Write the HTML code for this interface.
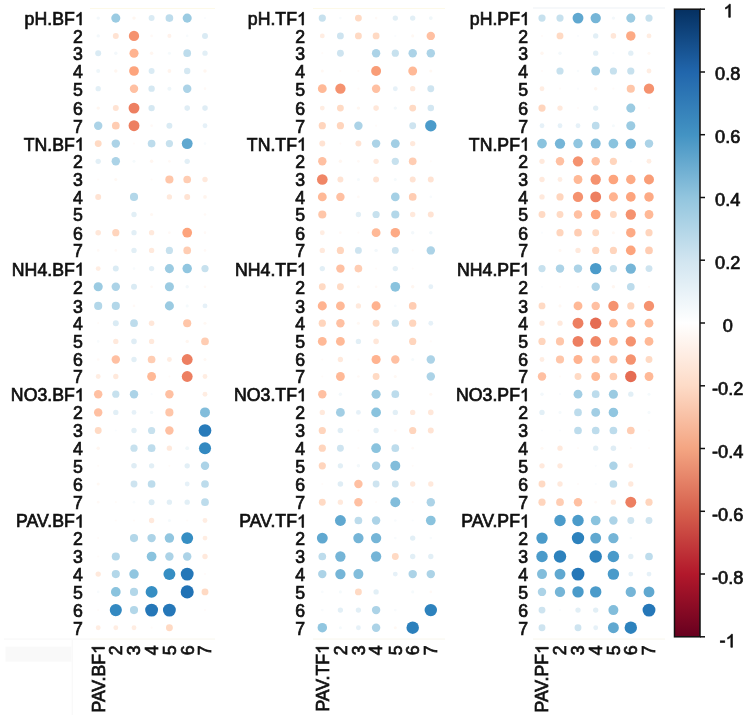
<!DOCTYPE html>
<html><head><meta charset="utf-8"><style>
html,body{margin:0;padding:0;background:#fff;}
svg{display:block;filter:blur(0.35px);}
</style></head><body>
<svg width="755" height="715" viewBox="0 0 755 715">
<rect width="755" height="715" fill="#fff"/>
<rect x="5.5" y="646.7" width="66" height="15" fill="#f9f9f9"/>
<line x1="4" x2="90" y1="639" y2="639" stroke="#f6f6f6" stroke-width="1"/>
<line x1="72.2" x2="72.2" y1="640" y2="715" stroke="#f7f7f7" stroke-width="1"/>
<line x1="90" x2="215" y1="8.5" y2="8.5" stroke="#fdf9e8" stroke-width="1.2"/>
<line x1="313" x2="445" y1="8.5" y2="8.5" stroke="#fdf9e8" stroke-width="1.2"/>
<line x1="533" x2="665" y1="8" y2="8" stroke="#eef2f6" stroke-width="1.2"/>
<line x1="90" x2="215" y1="639" y2="639" stroke="#f8f6ec" stroke-width="1"/>
<line x1="313" x2="445" y1="639" y2="639" stroke="#f8f6ec" stroke-width="1"/>
<line x1="533" x2="665" y1="639" y2="639" stroke="#f8f6ec" stroke-width="1"/>
<g font-family="Liberation Sans, sans-serif" font-size="17.7" fill="#111" stroke="#111" stroke-width="0.7">
<text x="74.76" y="25.0" text-anchor="end">pH.BF</text>
<path transform="translate(74.76,25.00) scale(0.00864,-0.00864)" d="M763 0H583V1147Q518 1085 412 1023T223 930V1104Q374 1175 487 1276T647 1472H763Z" fill="#111" stroke="#111" stroke-width="81.0"/>
<text x="82.8" y="42.8" text-anchor="end">2</text>
<text x="82.8" y="60.1" text-anchor="end">3</text>
<text x="82.8" y="77.9" text-anchor="end">4</text>
<text x="82.8" y="95.6" text-anchor="end">5</text>
<text x="82.8" y="115.0" text-anchor="end">6</text>
<text x="82.8" y="132.6" text-anchor="end">7</text>
<text x="74.76" y="150.5" text-anchor="end">TN.BF</text>
<path transform="translate(74.76,150.50) scale(0.00864,-0.00864)" d="M763 0H583V1147Q518 1085 412 1023T223 930V1104Q374 1175 487 1276T647 1472H763Z" fill="#111" stroke="#111" stroke-width="81.0"/>
<text x="82.8" y="168.2" text-anchor="end">2</text>
<text x="82.8" y="186.4" text-anchor="end">3</text>
<text x="82.8" y="203.8" text-anchor="end">4</text>
<text x="82.8" y="221.4" text-anchor="end">5</text>
<text x="82.8" y="239.6" text-anchor="end">6</text>
<text x="82.8" y="257.3" text-anchor="end">7</text>
<text x="74.76" y="275.5" text-anchor="end">NH4.BF</text>
<path transform="translate(74.76,275.50) scale(0.00864,-0.00864)" d="M763 0H583V1147Q518 1085 412 1023T223 930V1104Q374 1175 487 1276T647 1472H763Z" fill="#111" stroke="#111" stroke-width="81.0"/>
<text x="82.8" y="293.7" text-anchor="end">2</text>
<text x="82.8" y="312.8" text-anchor="end">3</text>
<text x="82.8" y="330.1" text-anchor="end">4</text>
<text x="82.8" y="348.3" text-anchor="end">5</text>
<text x="82.8" y="366.4" text-anchor="end">6</text>
<text x="82.8" y="383.4" text-anchor="end">7</text>
<text x="74.76" y="401.1" text-anchor="end">NO3.BF</text>
<path transform="translate(74.76,401.10) scale(0.00864,-0.00864)" d="M763 0H583V1147Q518 1085 412 1023T223 930V1104Q374 1175 487 1276T647 1472H763Z" fill="#111" stroke="#111" stroke-width="81.0"/>
<text x="82.8" y="419.3" text-anchor="end">2</text>
<text x="82.8" y="437.4" text-anchor="end">3</text>
<text x="82.8" y="455.1" text-anchor="end">4</text>
<text x="82.8" y="472.7" text-anchor="end">5</text>
<text x="82.8" y="490.9" text-anchor="end">6</text>
<text x="82.8" y="509.1" text-anchor="end">7</text>
<text x="74.76" y="527.4" text-anchor="end">PAV.BF</text>
<path transform="translate(74.76,527.40) scale(0.00864,-0.00864)" d="M763 0H583V1147Q518 1085 412 1023T223 930V1104Q374 1175 487 1276T647 1472H763Z" fill="#111" stroke="#111" stroke-width="81.0"/>
<text x="82.8" y="545.0" text-anchor="end">2</text>
<text x="82.8" y="563.4" text-anchor="end">3</text>
<text x="82.8" y="581.0" text-anchor="end">4</text>
<text x="82.8" y="598.8" text-anchor="end">5</text>
<text x="82.8" y="617.0" text-anchor="end">6</text>
<text x="82.8" y="634.6" text-anchor="end">7</text>
<text transform="translate(104.5,653.94) rotate(-90)" text-anchor="end">PAV.BF</text>
<path transform="translate(104.50,653.94) rotate(-90) scale(0.00864,-0.00864)" d="M763 0H583V1147Q518 1085 412 1023T223 930V1104Q374 1175 487 1276T647 1472H763Z" fill="#111" stroke="#111" stroke-width="81.0"/>
<text transform="translate(122.1,645.4) rotate(-90)" text-anchor="end">2</text>
<text transform="translate(140.3,645.4) rotate(-90)" text-anchor="end">3</text>
<text transform="translate(157.9,645.4) rotate(-90)" text-anchor="end">4</text>
<text transform="translate(175.7,645.4) rotate(-90)" text-anchor="end">5</text>
<text transform="translate(193.5,645.4) rotate(-90)" text-anchor="end">6</text>
<text transform="translate(211.3,645.4) rotate(-90)" text-anchor="end">7</text>
<text x="296.96" y="25.0" text-anchor="end">pH.TF</text>
<path transform="translate(296.96,25.00) scale(0.00864,-0.00864)" d="M763 0H583V1147Q518 1085 412 1023T223 930V1104Q374 1175 487 1276T647 1472H763Z" fill="#111" stroke="#111" stroke-width="81.0"/>
<text x="305.0" y="42.8" text-anchor="end">2</text>
<text x="305.0" y="60.1" text-anchor="end">3</text>
<text x="305.0" y="77.9" text-anchor="end">4</text>
<text x="305.0" y="95.6" text-anchor="end">5</text>
<text x="305.0" y="115.0" text-anchor="end">6</text>
<text x="305.0" y="132.6" text-anchor="end">7</text>
<text x="296.96" y="150.5" text-anchor="end">TN.TF</text>
<path transform="translate(296.96,150.50) scale(0.00864,-0.00864)" d="M763 0H583V1147Q518 1085 412 1023T223 930V1104Q374 1175 487 1276T647 1472H763Z" fill="#111" stroke="#111" stroke-width="81.0"/>
<text x="305.0" y="168.2" text-anchor="end">2</text>
<text x="305.0" y="186.4" text-anchor="end">3</text>
<text x="305.0" y="203.8" text-anchor="end">4</text>
<text x="305.0" y="221.4" text-anchor="end">5</text>
<text x="305.0" y="239.6" text-anchor="end">6</text>
<text x="305.0" y="257.3" text-anchor="end">7</text>
<text x="296.96" y="275.5" text-anchor="end">NH4.TF</text>
<path transform="translate(296.96,275.50) scale(0.00864,-0.00864)" d="M763 0H583V1147Q518 1085 412 1023T223 930V1104Q374 1175 487 1276T647 1472H763Z" fill="#111" stroke="#111" stroke-width="81.0"/>
<text x="305.0" y="293.7" text-anchor="end">2</text>
<text x="305.0" y="312.8" text-anchor="end">3</text>
<text x="305.0" y="330.1" text-anchor="end">4</text>
<text x="305.0" y="348.3" text-anchor="end">5</text>
<text x="305.0" y="366.4" text-anchor="end">6</text>
<text x="305.0" y="383.4" text-anchor="end">7</text>
<text x="296.96" y="401.1" text-anchor="end">NO3.TF</text>
<path transform="translate(296.96,401.10) scale(0.00864,-0.00864)" d="M763 0H583V1147Q518 1085 412 1023T223 930V1104Q374 1175 487 1276T647 1472H763Z" fill="#111" stroke="#111" stroke-width="81.0"/>
<text x="305.0" y="419.3" text-anchor="end">2</text>
<text x="305.0" y="437.4" text-anchor="end">3</text>
<text x="305.0" y="455.1" text-anchor="end">4</text>
<text x="305.0" y="472.7" text-anchor="end">5</text>
<text x="305.0" y="490.9" text-anchor="end">6</text>
<text x="305.0" y="509.1" text-anchor="end">7</text>
<text x="296.96" y="527.4" text-anchor="end">PAV.TF</text>
<path transform="translate(296.96,527.40) scale(0.00864,-0.00864)" d="M763 0H583V1147Q518 1085 412 1023T223 930V1104Q374 1175 487 1276T647 1472H763Z" fill="#111" stroke="#111" stroke-width="81.0"/>
<text x="305.0" y="545.0" text-anchor="end">2</text>
<text x="305.0" y="563.4" text-anchor="end">3</text>
<text x="305.0" y="581.0" text-anchor="end">4</text>
<text x="305.0" y="598.8" text-anchor="end">5</text>
<text x="305.0" y="617.0" text-anchor="end">6</text>
<text x="305.0" y="634.6" text-anchor="end">7</text>
<text transform="translate(328.6,653.94) rotate(-90)" text-anchor="end">PAV.TF</text>
<path transform="translate(328.60,653.94) rotate(-90) scale(0.00864,-0.00864)" d="M763 0H583V1147Q518 1085 412 1023T223 930V1104Q374 1175 487 1276T647 1472H763Z" fill="#111" stroke="#111" stroke-width="81.0"/>
<text transform="translate(346.7,645.4) rotate(-90)" text-anchor="end">2</text>
<text transform="translate(364.7,645.4) rotate(-90)" text-anchor="end">3</text>
<text transform="translate(382.4,645.4) rotate(-90)" text-anchor="end">4</text>
<text transform="translate(401.6,645.4) rotate(-90)" text-anchor="end">5</text>
<text transform="translate(419.0,645.4) rotate(-90)" text-anchor="end">6</text>
<text transform="translate(437.1,645.4) rotate(-90)" text-anchor="end">7</text>
<text x="519.96" y="25.0" text-anchor="end">pH.PF</text>
<path transform="translate(519.96,25.00) scale(0.00864,-0.00864)" d="M763 0H583V1147Q518 1085 412 1023T223 930V1104Q374 1175 487 1276T647 1472H763Z" fill="#111" stroke="#111" stroke-width="81.0"/>
<text x="528.0" y="42.8" text-anchor="end">2</text>
<text x="528.0" y="60.1" text-anchor="end">3</text>
<text x="528.0" y="77.9" text-anchor="end">4</text>
<text x="528.0" y="95.6" text-anchor="end">5</text>
<text x="528.0" y="115.0" text-anchor="end">6</text>
<text x="528.0" y="132.6" text-anchor="end">7</text>
<text x="519.96" y="150.5" text-anchor="end">TN.PF</text>
<path transform="translate(519.96,150.50) scale(0.00864,-0.00864)" d="M763 0H583V1147Q518 1085 412 1023T223 930V1104Q374 1175 487 1276T647 1472H763Z" fill="#111" stroke="#111" stroke-width="81.0"/>
<text x="528.0" y="168.2" text-anchor="end">2</text>
<text x="528.0" y="186.4" text-anchor="end">3</text>
<text x="528.0" y="203.8" text-anchor="end">4</text>
<text x="528.0" y="221.4" text-anchor="end">5</text>
<text x="528.0" y="239.6" text-anchor="end">6</text>
<text x="528.0" y="257.3" text-anchor="end">7</text>
<text x="519.96" y="275.5" text-anchor="end">NH4.PF</text>
<path transform="translate(519.96,275.50) scale(0.00864,-0.00864)" d="M763 0H583V1147Q518 1085 412 1023T223 930V1104Q374 1175 487 1276T647 1472H763Z" fill="#111" stroke="#111" stroke-width="81.0"/>
<text x="528.0" y="293.7" text-anchor="end">2</text>
<text x="528.0" y="312.8" text-anchor="end">3</text>
<text x="528.0" y="330.1" text-anchor="end">4</text>
<text x="528.0" y="348.3" text-anchor="end">5</text>
<text x="528.0" y="366.4" text-anchor="end">6</text>
<text x="528.0" y="383.4" text-anchor="end">7</text>
<text x="519.96" y="401.1" text-anchor="end">NO3.PF</text>
<path transform="translate(519.96,401.10) scale(0.00864,-0.00864)" d="M763 0H583V1147Q518 1085 412 1023T223 930V1104Q374 1175 487 1276T647 1472H763Z" fill="#111" stroke="#111" stroke-width="81.0"/>
<text x="528.0" y="419.3" text-anchor="end">2</text>
<text x="528.0" y="437.4" text-anchor="end">3</text>
<text x="528.0" y="455.1" text-anchor="end">4</text>
<text x="528.0" y="472.7" text-anchor="end">5</text>
<text x="528.0" y="490.9" text-anchor="end">6</text>
<text x="528.0" y="509.1" text-anchor="end">7</text>
<text x="519.96" y="527.4" text-anchor="end">PAV.PF</text>
<path transform="translate(519.96,527.40) scale(0.00864,-0.00864)" d="M763 0H583V1147Q518 1085 412 1023T223 930V1104Q374 1175 487 1276T647 1472H763Z" fill="#111" stroke="#111" stroke-width="81.0"/>
<text x="528.0" y="545.0" text-anchor="end">2</text>
<text x="528.0" y="563.4" text-anchor="end">3</text>
<text x="528.0" y="581.0" text-anchor="end">4</text>
<text x="528.0" y="598.8" text-anchor="end">5</text>
<text x="528.0" y="617.0" text-anchor="end">6</text>
<text x="528.0" y="634.6" text-anchor="end">7</text>
<text transform="translate(548.3,653.94) rotate(-90)" text-anchor="end">PAV.PF</text>
<path transform="translate(548.30,653.94) rotate(-90) scale(0.00864,-0.00864)" d="M763 0H583V1147Q518 1085 412 1023T223 930V1104Q374 1175 487 1276T647 1472H763Z" fill="#111" stroke="#111" stroke-width="81.0"/>
<text transform="translate(566.3,645.4) rotate(-90)" text-anchor="end">2</text>
<text transform="translate(584.3,645.4) rotate(-90)" text-anchor="end">3</text>
<text transform="translate(602.0,645.4) rotate(-90)" text-anchor="end">4</text>
<text transform="translate(619.7,645.4) rotate(-90)" text-anchor="end">5</text>
<text transform="translate(637.1,645.4) rotate(-90)" text-anchor="end">6</text>
<text transform="translate(655.3,645.4) rotate(-90)" text-anchor="end">7</text>
</g>
<g>
<circle cx="98.2" cy="18.1" r="1.72" fill="#f3f8fb"/>
<circle cx="115.8" cy="18.1" r="4.55" fill="#9bcbe2"/>
<circle cx="134.0" cy="18.1" r="1.72" fill="#fff6f0"/>
<circle cx="151.6" cy="18.1" r="2.98" fill="#daebf4"/>
<circle cx="169.4" cy="18.1" r="3.85" fill="#bddcec"/>
<circle cx="187.2" cy="18.1" r="4.55" fill="#9bcbe2"/>
<circle cx="205.0" cy="18.1" r="1.09" fill="#fafcfe"/>
<circle cx="98.2" cy="35.9" r="1.72" fill="#f3f8fb"/>
<circle cx="115.8" cy="35.9" r="2.98" fill="#ffe3d3"/>
<circle cx="134.0" cy="35.9" r="5.16" fill="#f5926f"/>
<circle cx="151.6" cy="35.9" r="1.33" fill="#fff9f6"/>
<circle cx="169.4" cy="35.9" r="2.04" fill="#fff2eb"/>
<circle cx="187.2" cy="35.9" r="1.33" fill="#f8fbfd"/>
<circle cx="205.0" cy="35.9" r="2.98" fill="#daebf4"/>
<circle cx="98.2" cy="53.2" r="2.98" fill="#daebf4"/>
<circle cx="115.8" cy="53.2" r="1.72" fill="#f3f8fb"/>
<circle cx="134.0" cy="53.2" r="4.55" fill="#ffb390"/>
<circle cx="151.6" cy="53.2" r="1.72" fill="#fff6f0"/>
<circle cx="169.4" cy="53.2" r="1.54" fill="#f5fafc"/>
<circle cx="187.2" cy="53.2" r="3.85" fill="#bddcec"/>
<circle cx="205.0" cy="53.2" r="2.67" fill="#e2eff6"/>
<circle cx="98.2" cy="71.0" r="2.04" fill="#eef6fa"/>
<circle cx="115.8" cy="71.0" r="1.72" fill="#fff6f0"/>
<circle cx="134.0" cy="71.0" r="4.87" fill="#fda47d"/>
<circle cx="151.6" cy="71.0" r="2.98" fill="#daebf4"/>
<circle cx="169.4" cy="71.0" r="1.89" fill="#fff4ed"/>
<circle cx="187.2" cy="71.0" r="3.17" fill="#d5e8f2"/>
<circle cx="205.0" cy="71.0" r="1.72" fill="#fff6f0"/>
<circle cx="98.2" cy="88.7" r="2.67" fill="#e2eff6"/>
<circle cx="134.0" cy="88.7" r="4.22" fill="#ffc0a2"/>
<circle cx="151.6" cy="88.7" r="3.17" fill="#d5e8f2"/>
<circle cx="169.4" cy="88.7" r="2.04" fill="#eef6fa"/>
<circle cx="187.2" cy="88.7" r="4.22" fill="#acd3e7"/>
<circle cx="205.0" cy="88.7" r="1.33" fill="#fff9f6"/>
<circle cx="98.2" cy="108.1" r="1.72" fill="#fff6f0"/>
<circle cx="115.8" cy="108.1" r="2.98" fill="#ffe3d3"/>
<circle cx="134.0" cy="108.1" r="5.44" fill="#ed7f61"/>
<circle cx="151.6" cy="108.1" r="3.17" fill="#d5e8f2"/>
<circle cx="187.2" cy="108.1" r="2.78" fill="#dfedf5"/>
<circle cx="205.0" cy="108.1" r="2.78" fill="#dfedf5"/>
<circle cx="98.2" cy="125.7" r="4.22" fill="#acd3e7"/>
<circle cx="115.8" cy="125.7" r="3.85" fill="#ffcdb3"/>
<circle cx="134.0" cy="125.7" r="5.44" fill="#ed7f61"/>
<circle cx="151.6" cy="125.7" r="1.33" fill="#fff9f6"/>
<circle cx="169.4" cy="125.7" r="2.98" fill="#daebf4"/>
<circle cx="205.0" cy="125.7" r="2.43" fill="#e6f1f8"/>
<circle cx="98.2" cy="143.6" r="3.44" fill="#ffdac4"/>
<circle cx="115.8" cy="143.6" r="4.22" fill="#acd3e7"/>
<circle cx="134.0" cy="143.6" r="1.09" fill="#fffbf9"/>
<circle cx="151.6" cy="143.6" r="3.85" fill="#bddcec"/>
<circle cx="169.4" cy="143.6" r="3.61" fill="#c7e1ee"/>
<circle cx="187.2" cy="143.6" r="5.44" fill="#60a8d0"/>
<circle cx="205.0" cy="143.6" r="1.33" fill="#f8fbfd"/>
<circle cx="98.2" cy="161.3" r="2.67" fill="#e2eff6"/>
<circle cx="115.8" cy="161.3" r="4.22" fill="#acd3e7"/>
<circle cx="134.0" cy="161.3" r="1.54" fill="#f5fafc"/>
<circle cx="151.6" cy="161.3" r="1.72" fill="#fff6f0"/>
<circle cx="169.4" cy="161.3" r="1.33" fill="#fff9f6"/>
<circle cx="187.2" cy="161.3" r="2.67" fill="#e2eff6"/>
<circle cx="98.2" cy="179.5" r="1.09" fill="#fffbf9"/>
<circle cx="115.8" cy="179.5" r="1.54" fill="#fff8f3"/>
<circle cx="151.6" cy="179.5" r="1.09" fill="#fffbf9"/>
<circle cx="169.4" cy="179.5" r="4.07" fill="#ffc6a9"/>
<circle cx="187.2" cy="179.5" r="3.85" fill="#ffcdb3"/>
<circle cx="205.0" cy="179.5" r="2.67" fill="#ffe9dc"/>
<circle cx="98.2" cy="196.9" r="2.98" fill="#ffe3d3"/>
<circle cx="134.0" cy="196.9" r="4.07" fill="#b3d7e9"/>
<circle cx="169.4" cy="196.9" r="2.67" fill="#ffe9dc"/>
<circle cx="187.2" cy="196.9" r="2.98" fill="#ffe3d3"/>
<circle cx="205.0" cy="196.9" r="1.89" fill="#fff4ed"/>
<circle cx="134.0" cy="214.5" r="2.67" fill="#e2eff6"/>
<circle cx="151.6" cy="214.5" r="1.54" fill="#fff8f3"/>
<circle cx="205.0" cy="214.5" r="1.33" fill="#fff9f6"/>
<circle cx="98.2" cy="232.7" r="2.78" fill="#ffe7d9"/>
<circle cx="115.8" cy="232.7" r="3.61" fill="#ffd5bd"/>
<circle cx="134.0" cy="232.7" r="2.67" fill="#e2eff6"/>
<circle cx="151.6" cy="232.7" r="2.67" fill="#ffe9dc"/>
<circle cx="169.4" cy="232.7" r="1.33" fill="#fff9f6"/>
<circle cx="187.2" cy="232.7" r="4.87" fill="#fda47d"/>
<circle cx="205.0" cy="232.7" r="1.33" fill="#fff9f6"/>
<circle cx="98.2" cy="250.4" r="1.33" fill="#fff9f6"/>
<circle cx="115.8" cy="250.4" r="1.33" fill="#fff9f6"/>
<circle cx="134.0" cy="250.4" r="2.67" fill="#e2eff6"/>
<circle cx="151.6" cy="250.4" r="2.67" fill="#ffe9dc"/>
<circle cx="169.4" cy="250.4" r="3.61" fill="#c7e1ee"/>
<circle cx="187.2" cy="250.4" r="3.85" fill="#ffcdb3"/>
<circle cx="205.0" cy="250.4" r="1.33" fill="#fff9f6"/>
<circle cx="98.2" cy="268.6" r="2.43" fill="#ffede2"/>
<circle cx="115.8" cy="268.6" r="2.98" fill="#daebf4"/>
<circle cx="134.0" cy="268.6" r="1.33" fill="#f8fbfd"/>
<circle cx="151.6" cy="268.6" r="2.67" fill="#e2eff6"/>
<circle cx="169.4" cy="268.6" r="4.55" fill="#9bcbe2"/>
<circle cx="187.2" cy="268.6" r="4.74" fill="#91c6e0"/>
<circle cx="205.0" cy="268.6" r="3.61" fill="#c7e1ee"/>
<circle cx="98.2" cy="286.8" r="4.55" fill="#9bcbe2"/>
<circle cx="115.8" cy="286.8" r="4.22" fill="#acd3e7"/>
<circle cx="134.0" cy="286.8" r="2.98" fill="#daebf4"/>
<circle cx="151.6" cy="286.8" r="1.33" fill="#fff9f6"/>
<circle cx="169.4" cy="286.8" r="4.55" fill="#9bcbe2"/>
<circle cx="187.2" cy="286.8" r="1.72" fill="#f3f8fb"/>
<circle cx="205.0" cy="286.8" r="1.33" fill="#fff9f6"/>
<circle cx="98.2" cy="305.9" r="4.07" fill="#b3d7e9"/>
<circle cx="115.8" cy="305.9" r="4.07" fill="#b3d7e9"/>
<circle cx="134.0" cy="305.9" r="1.33" fill="#fff9f6"/>
<circle cx="169.4" cy="305.9" r="4.55" fill="#9bcbe2"/>
<circle cx="187.2" cy="305.9" r="1.54" fill="#f5fafc"/>
<circle cx="205.0" cy="305.9" r="2.43" fill="#e6f1f8"/>
<circle cx="98.2" cy="323.2" r="1.09" fill="#fffbf9"/>
<circle cx="115.8" cy="323.2" r="2.98" fill="#daebf4"/>
<circle cx="134.0" cy="323.2" r="3.85" fill="#bddcec"/>
<circle cx="151.6" cy="323.2" r="2.78" fill="#ffe7d9"/>
<circle cx="187.2" cy="323.2" r="4.07" fill="#ffc6a9"/>
<circle cx="205.0" cy="323.2" r="1.54" fill="#fff8f3"/>
<circle cx="98.2" cy="341.4" r="1.33" fill="#f8fbfd"/>
<circle cx="115.8" cy="341.4" r="2.67" fill="#ffe9dc"/>
<circle cx="134.0" cy="341.4" r="2.78" fill="#dfedf5"/>
<circle cx="151.6" cy="341.4" r="2.67" fill="#ffe9dc"/>
<circle cx="187.2" cy="341.4" r="1.72" fill="#fff6f0"/>
<circle cx="205.0" cy="341.4" r="3.85" fill="#ffcdb3"/>
<circle cx="98.2" cy="359.5" r="1.33" fill="#fff9f6"/>
<circle cx="115.8" cy="359.5" r="4.22" fill="#ffc0a2"/>
<circle cx="134.0" cy="359.5" r="2.67" fill="#e2eff6"/>
<circle cx="151.6" cy="359.5" r="3.85" fill="#ffcdb3"/>
<circle cx="169.4" cy="359.5" r="2.43" fill="#ffede2"/>
<circle cx="187.2" cy="359.5" r="5.44" fill="#ed7f61"/>
<circle cx="205.0" cy="359.5" r="1.54" fill="#fff8f3"/>
<circle cx="98.2" cy="376.5" r="2.43" fill="#ffede2"/>
<circle cx="115.8" cy="376.5" r="2.67" fill="#ffe9dc"/>
<circle cx="151.6" cy="376.5" r="4.42" fill="#ffb997"/>
<circle cx="169.4" cy="376.5" r="1.09" fill="#fffbf9"/>
<circle cx="187.2" cy="376.5" r="5.44" fill="#ed7f61"/>
<circle cx="205.0" cy="376.5" r="2.43" fill="#ffede2"/>
<circle cx="98.2" cy="394.2" r="4.22" fill="#ffc0a2"/>
<circle cx="115.8" cy="394.2" r="3.61" fill="#c7e1ee"/>
<circle cx="134.0" cy="394.2" r="4.22" fill="#acd3e7"/>
<circle cx="151.6" cy="394.2" r="1.09" fill="#fafcfe"/>
<circle cx="169.4" cy="394.2" r="4.22" fill="#ffc0a2"/>
<circle cx="205.0" cy="394.2" r="2.43" fill="#ffede2"/>
<circle cx="98.2" cy="412.4" r="4.22" fill="#ffc0a2"/>
<circle cx="115.8" cy="412.4" r="2.67" fill="#e2eff6"/>
<circle cx="134.0" cy="412.4" r="2.43" fill="#e6f1f8"/>
<circle cx="151.6" cy="412.4" r="1.72" fill="#f3f8fb"/>
<circle cx="169.4" cy="412.4" r="4.07" fill="#ffc6a9"/>
<circle cx="205.0" cy="412.4" r="4.99" fill="#82bddb"/>
<circle cx="98.2" cy="430.5" r="3.44" fill="#ffdac4"/>
<circle cx="115.8" cy="430.5" r="1.09" fill="#fafcfe"/>
<circle cx="134.0" cy="430.5" r="2.67" fill="#e2eff6"/>
<circle cx="151.6" cy="430.5" r="3.61" fill="#c7e1ee"/>
<circle cx="169.4" cy="430.5" r="4.22" fill="#ffc0a2"/>
<circle cx="205.0" cy="430.5" r="6.35" fill="#287bba"/>
<circle cx="98.2" cy="448.2" r="1.72" fill="#fff6f0"/>
<circle cx="134.0" cy="448.2" r="3.61" fill="#c7e1ee"/>
<circle cx="151.6" cy="448.2" r="3.85" fill="#bddcec"/>
<circle cx="169.4" cy="448.2" r="2.67" fill="#ffe9dc"/>
<circle cx="187.2" cy="448.2" r="1.89" fill="#f0f7fa"/>
<circle cx="205.0" cy="448.2" r="6.06" fill="#3389c1"/>
<circle cx="98.2" cy="465.8" r="1.09" fill="#fffbf9"/>
<circle cx="134.0" cy="465.8" r="2.78" fill="#dfedf5"/>
<circle cx="151.6" cy="465.8" r="2.67" fill="#e2eff6"/>
<circle cx="169.4" cy="465.8" r="1.09" fill="#fffbf9"/>
<circle cx="187.2" cy="465.8" r="2.67" fill="#e2eff6"/>
<circle cx="205.0" cy="465.8" r="4.22" fill="#acd3e7"/>
<circle cx="98.2" cy="484.0" r="1.54" fill="#fff8f3"/>
<circle cx="134.0" cy="484.0" r="3.44" fill="#cee4f0"/>
<circle cx="151.6" cy="484.0" r="3.85" fill="#bddcec"/>
<circle cx="187.2" cy="484.0" r="2.43" fill="#e6f1f8"/>
<circle cx="205.0" cy="484.0" r="3.85" fill="#bddcec"/>
<circle cx="98.2" cy="502.2" r="1.33" fill="#fff9f6"/>
<circle cx="115.8" cy="502.2" r="1.09" fill="#fffbf9"/>
<circle cx="134.0" cy="502.2" r="1.33" fill="#f8fbfd"/>
<circle cx="151.6" cy="502.2" r="2.98" fill="#daebf4"/>
<circle cx="169.4" cy="502.2" r="2.67" fill="#e2eff6"/>
<circle cx="187.2" cy="502.2" r="2.67" fill="#e2eff6"/>
<circle cx="205.0" cy="502.2" r="3.85" fill="#bddcec"/>
<circle cx="115.8" cy="520.5" r="1.09" fill="#fffbf9"/>
<circle cx="134.0" cy="520.5" r="1.09" fill="#fffbf9"/>
<circle cx="151.6" cy="520.5" r="2.67" fill="#ffe9dc"/>
<circle cx="169.4" cy="520.5" r="1.54" fill="#f5fafc"/>
<circle cx="187.2" cy="520.5" r="1.09" fill="#fffbf9"/>
<circle cx="205.0" cy="520.5" r="2.43" fill="#ffede2"/>
<circle cx="98.2" cy="538.1" r="1.09" fill="#fffbf9"/>
<circle cx="134.0" cy="538.1" r="4.07" fill="#b3d7e9"/>
<circle cx="151.6" cy="538.1" r="4.22" fill="#acd3e7"/>
<circle cx="169.4" cy="538.1" r="4.74" fill="#91c6e0"/>
<circle cx="187.2" cy="538.1" r="5.96" fill="#368ec3"/>
<circle cx="205.0" cy="538.1" r="2.43" fill="#ffede2"/>
<circle cx="98.2" cy="556.5" r="1.09" fill="#fffbf9"/>
<circle cx="115.8" cy="556.5" r="4.07" fill="#b3d7e9"/>
<circle cx="151.6" cy="556.5" r="4.87" fill="#8ac3de"/>
<circle cx="169.4" cy="556.5" r="4.22" fill="#acd3e7"/>
<circle cx="187.2" cy="556.5" r="4.22" fill="#acd3e7"/>
<circle cx="205.0" cy="556.5" r="2.67" fill="#ffe9dc"/>
<circle cx="98.2" cy="574.1" r="2.67" fill="#ffe9dc"/>
<circle cx="115.8" cy="574.1" r="4.07" fill="#b3d7e9"/>
<circle cx="134.0" cy="574.1" r="4.74" fill="#91c6e0"/>
<circle cx="169.4" cy="574.1" r="5.96" fill="#368ec3"/>
<circle cx="187.2" cy="574.1" r="6.44" fill="#2577b8"/>
<circle cx="205.0" cy="574.1" r="1.09" fill="#fffbf9"/>
<circle cx="98.2" cy="591.9" r="1.33" fill="#f8fbfd"/>
<circle cx="115.8" cy="591.9" r="4.87" fill="#8ac3de"/>
<circle cx="134.0" cy="591.9" r="4.07" fill="#b3d7e9"/>
<circle cx="151.6" cy="591.9" r="5.96" fill="#368ec3"/>
<circle cx="187.2" cy="591.9" r="6.53" fill="#2172b5"/>
<circle cx="205.0" cy="591.9" r="3.44" fill="#ffdac4"/>
<circle cx="98.2" cy="610.1" r="1.09" fill="#fffbf9"/>
<circle cx="115.8" cy="610.1" r="6.06" fill="#3389c1"/>
<circle cx="134.0" cy="610.1" r="4.07" fill="#b3d7e9"/>
<circle cx="151.6" cy="610.1" r="6.44" fill="#2577b8"/>
<circle cx="169.4" cy="610.1" r="6.44" fill="#2577b8"/>
<circle cx="205.0" cy="610.1" r="1.09" fill="#fffbf9"/>
<circle cx="98.2" cy="627.7" r="2.43" fill="#ffede2"/>
<circle cx="115.8" cy="627.7" r="2.43" fill="#ffede2"/>
<circle cx="134.0" cy="627.7" r="2.43" fill="#ffede2"/>
<circle cx="151.6" cy="627.7" r="1.09" fill="#fffbf9"/>
<circle cx="169.4" cy="627.7" r="3.44" fill="#ffdac4"/>
<circle cx="322.3" cy="18.1" r="3.61" fill="#c7e1ee"/>
<circle cx="340.4" cy="18.1" r="1.33" fill="#f8fbfd"/>
<circle cx="358.4" cy="18.1" r="3.44" fill="#ffdac4"/>
<circle cx="376.1" cy="18.1" r="1.33" fill="#fff9f6"/>
<circle cx="395.3" cy="18.1" r="2.67" fill="#e2eff6"/>
<circle cx="412.7" cy="18.1" r="2.67" fill="#e2eff6"/>
<circle cx="430.8" cy="18.1" r="1.89" fill="#f0f7fa"/>
<circle cx="322.3" cy="35.9" r="2.43" fill="#ffede2"/>
<circle cx="340.4" cy="35.9" r="3.44" fill="#cee4f0"/>
<circle cx="358.4" cy="35.9" r="3.44" fill="#ffdac4"/>
<circle cx="376.1" cy="35.9" r="3.44" fill="#ffdac4"/>
<circle cx="395.3" cy="35.9" r="1.09" fill="#fafcfe"/>
<circle cx="412.7" cy="35.9" r="1.54" fill="#fff8f3"/>
<circle cx="430.8" cy="35.9" r="4.22" fill="#ffc0a2"/>
<circle cx="322.3" cy="53.2" r="1.09" fill="#fffbf9"/>
<circle cx="340.4" cy="53.2" r="3.44" fill="#cee4f0"/>
<circle cx="376.1" cy="53.2" r="4.22" fill="#acd3e7"/>
<circle cx="395.3" cy="53.2" r="3.61" fill="#c7e1ee"/>
<circle cx="412.7" cy="53.2" r="4.22" fill="#acd3e7"/>
<circle cx="430.8" cy="53.2" r="4.22" fill="#acd3e7"/>
<circle cx="322.3" cy="71.0" r="1.54" fill="#fff8f3"/>
<circle cx="340.4" cy="71.0" r="1.09" fill="#fffbf9"/>
<circle cx="358.4" cy="71.0" r="1.09" fill="#fffbf9"/>
<circle cx="376.1" cy="71.0" r="4.99" fill="#f99d77"/>
<circle cx="412.7" cy="71.0" r="4.42" fill="#ffb997"/>
<circle cx="430.8" cy="71.0" r="1.54" fill="#fff8f3"/>
<circle cx="322.3" cy="88.7" r="4.42" fill="#ffb997"/>
<circle cx="340.4" cy="88.7" r="5.16" fill="#f5926f"/>
<circle cx="358.4" cy="88.7" r="1.09" fill="#fffbf9"/>
<circle cx="376.1" cy="88.7" r="4.22" fill="#ffc0a2"/>
<circle cx="395.3" cy="88.7" r="2.43" fill="#e6f1f8"/>
<circle cx="412.7" cy="88.7" r="2.67" fill="#ffe9dc"/>
<circle cx="430.8" cy="88.7" r="3.44" fill="#cee4f0"/>
<circle cx="322.3" cy="108.1" r="2.43" fill="#ffede2"/>
<circle cx="340.4" cy="108.1" r="3.44" fill="#ffdac4"/>
<circle cx="358.4" cy="108.1" r="1.72" fill="#fff6f0"/>
<circle cx="376.1" cy="108.1" r="2.78" fill="#ffe7d9"/>
<circle cx="395.3" cy="108.1" r="1.72" fill="#f3f8fb"/>
<circle cx="412.7" cy="108.1" r="3.44" fill="#ffdac4"/>
<circle cx="430.8" cy="108.1" r="3.27" fill="#d3e7f2"/>
<circle cx="322.3" cy="125.7" r="3.61" fill="#ffd5bd"/>
<circle cx="340.4" cy="125.7" r="3.61" fill="#ffd5bd"/>
<circle cx="358.4" cy="125.7" r="4.22" fill="#acd3e7"/>
<circle cx="376.1" cy="125.7" r="1.09" fill="#fffbf9"/>
<circle cx="412.7" cy="125.7" r="3.44" fill="#cee4f0"/>
<circle cx="430.8" cy="125.7" r="5.71" fill="#4b9bca"/>
<circle cx="322.3" cy="143.6" r="2.98" fill="#ffe3d3"/>
<circle cx="340.4" cy="143.6" r="1.09" fill="#fffbf9"/>
<circle cx="358.4" cy="143.6" r="2.98" fill="#ffe3d3"/>
<circle cx="376.1" cy="143.6" r="4.22" fill="#acd3e7"/>
<circle cx="395.3" cy="143.6" r="4.42" fill="#a2cee4"/>
<circle cx="412.7" cy="143.6" r="2.67" fill="#ffe9dc"/>
<circle cx="322.3" cy="161.3" r="4.22" fill="#ffc0a2"/>
<circle cx="340.4" cy="161.3" r="1.72" fill="#fff6f0"/>
<circle cx="358.4" cy="161.3" r="1.33" fill="#fff9f6"/>
<circle cx="376.1" cy="161.3" r="2.67" fill="#ffe9dc"/>
<circle cx="395.3" cy="161.3" r="3.61" fill="#c7e1ee"/>
<circle cx="412.7" cy="161.3" r="3.85" fill="#ffcdb3"/>
<circle cx="430.8" cy="161.3" r="1.09" fill="#fffbf9"/>
<circle cx="322.3" cy="179.5" r="5.33" fill="#f08666"/>
<circle cx="340.4" cy="179.5" r="2.98" fill="#ffe3d3"/>
<circle cx="358.4" cy="179.5" r="1.54" fill="#f5fafc"/>
<circle cx="376.1" cy="179.5" r="2.98" fill="#ffe3d3"/>
<circle cx="395.3" cy="179.5" r="1.54" fill="#f5fafc"/>
<circle cx="412.7" cy="179.5" r="2.98" fill="#ffe3d3"/>
<circle cx="430.8" cy="179.5" r="2.98" fill="#ffe3d3"/>
<circle cx="322.3" cy="196.9" r="4.42" fill="#ffb997"/>
<circle cx="340.4" cy="196.9" r="4.22" fill="#ffc0a2"/>
<circle cx="358.4" cy="196.9" r="1.33" fill="#fff9f6"/>
<circle cx="395.3" cy="196.9" r="4.35" fill="#a5d0e5"/>
<circle cx="412.7" cy="196.9" r="3.85" fill="#ffcdb3"/>
<circle cx="430.8" cy="196.9" r="1.33" fill="#f8fbfd"/>
<circle cx="322.3" cy="214.5" r="4.07" fill="#ffc6a9"/>
<circle cx="358.4" cy="214.5" r="2.67" fill="#e2eff6"/>
<circle cx="376.1" cy="214.5" r="3.61" fill="#c7e1ee"/>
<circle cx="395.3" cy="214.5" r="4.07" fill="#b3d7e9"/>
<circle cx="412.7" cy="214.5" r="2.67" fill="#ffe9dc"/>
<circle cx="430.8" cy="214.5" r="2.98" fill="#ffe3d3"/>
<circle cx="322.3" cy="232.7" r="2.43" fill="#ffede2"/>
<circle cx="340.4" cy="232.7" r="1.33" fill="#fff9f6"/>
<circle cx="358.4" cy="232.7" r="1.09" fill="#fffbf9"/>
<circle cx="376.1" cy="232.7" r="4.42" fill="#ffb997"/>
<circle cx="395.3" cy="232.7" r="4.74" fill="#fdaa85"/>
<circle cx="412.7" cy="232.7" r="1.72" fill="#f3f8fb"/>
<circle cx="430.8" cy="232.7" r="1.72" fill="#f3f8fb"/>
<circle cx="322.3" cy="250.4" r="2.67" fill="#ffe9dc"/>
<circle cx="340.4" cy="250.4" r="3.61" fill="#ffd5bd"/>
<circle cx="358.4" cy="250.4" r="3.44" fill="#cee4f0"/>
<circle cx="376.1" cy="250.4" r="1.72" fill="#f3f8fb"/>
<circle cx="395.3" cy="250.4" r="3.44" fill="#cee4f0"/>
<circle cx="412.7" cy="250.4" r="1.09" fill="#fffbf9"/>
<circle cx="430.8" cy="250.4" r="4.22" fill="#acd3e7"/>
<circle cx="322.3" cy="268.6" r="2.67" fill="#e2eff6"/>
<circle cx="340.4" cy="268.6" r="4.22" fill="#ffc0a2"/>
<circle cx="358.4" cy="268.6" r="3.85" fill="#ffcdb3"/>
<circle cx="376.1" cy="268.6" r="1.09" fill="#fffbf9"/>
<circle cx="395.3" cy="268.6" r="2.67" fill="#e2eff6"/>
<circle cx="412.7" cy="268.6" r="1.09" fill="#fffbf9"/>
<circle cx="322.3" cy="286.8" r="3.44" fill="#ffdac4"/>
<circle cx="340.4" cy="286.8" r="3.44" fill="#ffdac4"/>
<circle cx="358.4" cy="286.8" r="1.54" fill="#fff8f3"/>
<circle cx="376.1" cy="286.8" r="1.33" fill="#fff9f6"/>
<circle cx="395.3" cy="286.8" r="4.87" fill="#8ac3de"/>
<circle cx="412.7" cy="286.8" r="1.72" fill="#fff6f0"/>
<circle cx="430.8" cy="286.8" r="2.43" fill="#e6f1f8"/>
<circle cx="322.3" cy="305.9" r="4.55" fill="#ffb390"/>
<circle cx="340.4" cy="305.9" r="4.42" fill="#ffb997"/>
<circle cx="358.4" cy="305.9" r="2.67" fill="#ffe9dc"/>
<circle cx="376.1" cy="305.9" r="4.55" fill="#ffb390"/>
<circle cx="395.3" cy="305.9" r="1.33" fill="#f8fbfd"/>
<circle cx="412.7" cy="305.9" r="3.85" fill="#ffcdb3"/>
<circle cx="322.3" cy="323.2" r="3.61" fill="#ffd5bd"/>
<circle cx="340.4" cy="323.2" r="4.22" fill="#ffc0a2"/>
<circle cx="358.4" cy="323.2" r="1.54" fill="#fff8f3"/>
<circle cx="376.1" cy="323.2" r="3.44" fill="#ffdac4"/>
<circle cx="395.3" cy="323.2" r="3.61" fill="#c7e1ee"/>
<circle cx="412.7" cy="323.2" r="3.61" fill="#ffd5bd"/>
<circle cx="430.8" cy="323.2" r="2.43" fill="#e6f1f8"/>
<circle cx="322.3" cy="341.4" r="4.42" fill="#ffb997"/>
<circle cx="340.4" cy="341.4" r="4.42" fill="#ffb997"/>
<circle cx="358.4" cy="341.4" r="2.67" fill="#e2eff6"/>
<circle cx="376.1" cy="341.4" r="2.78" fill="#ffe7d9"/>
<circle cx="412.7" cy="341.4" r="3.61" fill="#ffd5bd"/>
<circle cx="430.8" cy="341.4" r="1.09" fill="#fffbf9"/>
<circle cx="322.3" cy="359.5" r="1.09" fill="#fffbf9"/>
<circle cx="340.4" cy="359.5" r="2.67" fill="#ffe9dc"/>
<circle cx="358.4" cy="359.5" r="1.09" fill="#fffbf9"/>
<circle cx="376.1" cy="359.5" r="4.55" fill="#ffb390"/>
<circle cx="395.3" cy="359.5" r="4.22" fill="#ffc0a2"/>
<circle cx="412.7" cy="359.5" r="1.54" fill="#f5fafc"/>
<circle cx="430.8" cy="359.5" r="4.22" fill="#acd3e7"/>
<circle cx="322.3" cy="376.5" r="1.09" fill="#fffbf9"/>
<circle cx="340.4" cy="376.5" r="4.42" fill="#ffb997"/>
<circle cx="358.4" cy="376.5" r="1.33" fill="#fff9f6"/>
<circle cx="376.1" cy="376.5" r="3.44" fill="#ffdac4"/>
<circle cx="395.3" cy="376.5" r="1.54" fill="#fff8f3"/>
<circle cx="430.8" cy="376.5" r="4.22" fill="#acd3e7"/>
<circle cx="322.3" cy="394.2" r="4.22" fill="#ffc0a2"/>
<circle cx="340.4" cy="394.2" r="1.72" fill="#f3f8fb"/>
<circle cx="376.1" cy="394.2" r="4.55" fill="#9bcbe2"/>
<circle cx="395.3" cy="394.2" r="3.85" fill="#bddcec"/>
<circle cx="430.8" cy="394.2" r="1.54" fill="#fff8f3"/>
<circle cx="322.3" cy="412.4" r="2.67" fill="#ffe9dc"/>
<circle cx="340.4" cy="412.4" r="4.42" fill="#a2cee4"/>
<circle cx="358.4" cy="412.4" r="2.43" fill="#e6f1f8"/>
<circle cx="376.1" cy="412.4" r="4.87" fill="#8ac3de"/>
<circle cx="395.3" cy="412.4" r="2.67" fill="#e2eff6"/>
<circle cx="412.7" cy="412.4" r="2.67" fill="#ffe9dc"/>
<circle cx="430.8" cy="412.4" r="2.78" fill="#ffe7d9"/>
<circle cx="322.3" cy="430.5" r="3.61" fill="#ffd5bd"/>
<circle cx="340.4" cy="430.5" r="2.78" fill="#dfedf5"/>
<circle cx="358.4" cy="430.5" r="1.09" fill="#fffbf9"/>
<circle cx="376.1" cy="430.5" r="2.67" fill="#e2eff6"/>
<circle cx="395.3" cy="430.5" r="1.33" fill="#fff9f6"/>
<circle cx="412.7" cy="430.5" r="3.61" fill="#ffd5bd"/>
<circle cx="430.8" cy="430.5" r="2.98" fill="#ffe3d3"/>
<circle cx="322.3" cy="448.2" r="3.61" fill="#ffd5bd"/>
<circle cx="340.4" cy="448.2" r="3.44" fill="#cee4f0"/>
<circle cx="358.4" cy="448.2" r="1.09" fill="#fffbf9"/>
<circle cx="376.1" cy="448.2" r="4.87" fill="#8ac3de"/>
<circle cx="395.3" cy="448.2" r="3.85" fill="#bddcec"/>
<circle cx="412.7" cy="448.2" r="1.33" fill="#fff9f6"/>
<circle cx="322.3" cy="465.8" r="3.61" fill="#ffd5bd"/>
<circle cx="340.4" cy="465.8" r="2.67" fill="#e2eff6"/>
<circle cx="358.4" cy="465.8" r="1.72" fill="#f3f8fb"/>
<circle cx="376.1" cy="465.8" r="4.22" fill="#acd3e7"/>
<circle cx="395.3" cy="465.8" r="4.99" fill="#82bddb"/>
<circle cx="412.7" cy="465.8" r="1.09" fill="#fffbf9"/>
<circle cx="322.3" cy="484.0" r="1.09" fill="#fffbf9"/>
<circle cx="340.4" cy="484.0" r="2.78" fill="#dfedf5"/>
<circle cx="358.4" cy="484.0" r="4.22" fill="#ffc0a2"/>
<circle cx="376.1" cy="484.0" r="3.44" fill="#cee4f0"/>
<circle cx="395.3" cy="484.0" r="3.44" fill="#cee4f0"/>
<circle cx="412.7" cy="484.0" r="2.67" fill="#ffe9dc"/>
<circle cx="430.8" cy="484.0" r="2.67" fill="#ffe9dc"/>
<circle cx="322.3" cy="502.2" r="3.44" fill="#ffdac4"/>
<circle cx="340.4" cy="502.2" r="2.67" fill="#ffe9dc"/>
<circle cx="358.4" cy="502.2" r="4.22" fill="#ffc0a2"/>
<circle cx="376.1" cy="502.2" r="1.09" fill="#fffbf9"/>
<circle cx="395.3" cy="502.2" r="4.99" fill="#82bddb"/>
<circle cx="412.7" cy="502.2" r="1.09" fill="#fffbf9"/>
<circle cx="430.8" cy="502.2" r="4.22" fill="#acd3e7"/>
<circle cx="340.4" cy="520.5" r="5.44" fill="#60a8d0"/>
<circle cx="358.4" cy="520.5" r="3.85" fill="#bddcec"/>
<circle cx="376.1" cy="520.5" r="4.22" fill="#acd3e7"/>
<circle cx="395.3" cy="520.5" r="1.33" fill="#f8fbfd"/>
<circle cx="412.7" cy="520.5" r="1.09" fill="#fafcfe"/>
<circle cx="430.8" cy="520.5" r="4.87" fill="#8ac3de"/>
<circle cx="322.3" cy="538.1" r="5.44" fill="#60a8d0"/>
<circle cx="358.4" cy="538.1" r="5.16" fill="#75b5d7"/>
<circle cx="376.1" cy="538.1" r="5.16" fill="#75b5d7"/>
<circle cx="395.3" cy="538.1" r="1.33" fill="#f8fbfd"/>
<circle cx="412.7" cy="538.1" r="2.67" fill="#e2eff6"/>
<circle cx="430.8" cy="538.1" r="1.33" fill="#f8fbfd"/>
<circle cx="322.3" cy="556.5" r="3.85" fill="#bddcec"/>
<circle cx="340.4" cy="556.5" r="5.16" fill="#75b5d7"/>
<circle cx="376.1" cy="556.5" r="5.16" fill="#75b5d7"/>
<circle cx="395.3" cy="556.5" r="3.44" fill="#ffdac4"/>
<circle cx="412.7" cy="556.5" r="2.67" fill="#e2eff6"/>
<circle cx="430.8" cy="556.5" r="2.67" fill="#e2eff6"/>
<circle cx="322.3" cy="574.1" r="4.22" fill="#acd3e7"/>
<circle cx="340.4" cy="574.1" r="5.16" fill="#75b5d7"/>
<circle cx="358.4" cy="574.1" r="4.99" fill="#82bddb"/>
<circle cx="395.3" cy="574.1" r="2.43" fill="#e6f1f8"/>
<circle cx="412.7" cy="574.1" r="4.22" fill="#acd3e7"/>
<circle cx="430.8" cy="574.1" r="4.22" fill="#acd3e7"/>
<circle cx="322.3" cy="591.9" r="1.33" fill="#f8fbfd"/>
<circle cx="340.4" cy="591.9" r="1.54" fill="#f5fafc"/>
<circle cx="358.4" cy="591.9" r="3.44" fill="#ffdac4"/>
<circle cx="376.1" cy="591.9" r="2.67" fill="#e2eff6"/>
<circle cx="412.7" cy="591.9" r="1.54" fill="#f5fafc"/>
<circle cx="430.8" cy="591.9" r="1.33" fill="#fff9f6"/>
<circle cx="322.3" cy="610.1" r="1.33" fill="#f8fbfd"/>
<circle cx="340.4" cy="610.1" r="2.67" fill="#e2eff6"/>
<circle cx="358.4" cy="610.1" r="2.67" fill="#e2eff6"/>
<circle cx="376.1" cy="610.1" r="4.22" fill="#acd3e7"/>
<circle cx="395.3" cy="610.1" r="1.33" fill="#f8fbfd"/>
<circle cx="430.8" cy="610.1" r="6.21" fill="#2d82bd"/>
<circle cx="322.3" cy="627.7" r="4.74" fill="#91c6e0"/>
<circle cx="340.4" cy="627.7" r="1.54" fill="#f5fafc"/>
<circle cx="358.4" cy="627.7" r="2.43" fill="#e6f1f8"/>
<circle cx="376.1" cy="627.7" r="4.22" fill="#acd3e7"/>
<circle cx="395.3" cy="627.7" r="1.54" fill="#fff8f3"/>
<circle cx="412.7" cy="627.7" r="6.25" fill="#2c80bc"/>
<circle cx="542.0" cy="18.1" r="3.61" fill="#c7e1ee"/>
<circle cx="560.0" cy="18.1" r="3.61" fill="#c7e1ee"/>
<circle cx="578.0" cy="18.1" r="5.44" fill="#60a8d0"/>
<circle cx="595.7" cy="18.1" r="5.16" fill="#75b5d7"/>
<circle cx="613.4" cy="18.1" r="1.72" fill="#f3f8fb"/>
<circle cx="630.8" cy="18.1" r="4.55" fill="#9bcbe2"/>
<circle cx="649.0" cy="18.1" r="3.61" fill="#c7e1ee"/>
<circle cx="542.0" cy="35.9" r="1.09" fill="#fffbf9"/>
<circle cx="560.0" cy="35.9" r="3.44" fill="#ffdac4"/>
<circle cx="578.0" cy="35.9" r="1.09" fill="#fafcfe"/>
<circle cx="595.7" cy="35.9" r="2.67" fill="#e2eff6"/>
<circle cx="613.4" cy="35.9" r="2.78" fill="#ffe7d9"/>
<circle cx="630.8" cy="35.9" r="4.74" fill="#fdaa85"/>
<circle cx="649.0" cy="35.9" r="2.43" fill="#ffede2"/>
<circle cx="542.0" cy="53.2" r="1.72" fill="#fff6f0"/>
<circle cx="560.0" cy="53.2" r="1.72" fill="#f3f8fb"/>
<circle cx="595.7" cy="53.2" r="2.67" fill="#e2eff6"/>
<circle cx="613.4" cy="53.2" r="1.09" fill="#fafcfe"/>
<circle cx="630.8" cy="53.2" r="2.67" fill="#e2eff6"/>
<circle cx="649.0" cy="53.2" r="1.54" fill="#fff8f3"/>
<circle cx="542.0" cy="71.0" r="1.09" fill="#fffbf9"/>
<circle cx="560.0" cy="71.0" r="3.61" fill="#c7e1ee"/>
<circle cx="578.0" cy="71.0" r="1.33" fill="#f8fbfd"/>
<circle cx="595.7" cy="71.0" r="4.42" fill="#a2cee4"/>
<circle cx="613.4" cy="71.0" r="3.61" fill="#c7e1ee"/>
<circle cx="630.8" cy="71.0" r="3.61" fill="#c7e1ee"/>
<circle cx="649.0" cy="71.0" r="2.43" fill="#ffede2"/>
<circle cx="542.0" cy="88.7" r="2.43" fill="#ffede2"/>
<circle cx="560.0" cy="88.7" r="1.09" fill="#fffbf9"/>
<circle cx="578.0" cy="88.7" r="1.09" fill="#fafcfe"/>
<circle cx="595.7" cy="88.7" r="1.72" fill="#fff6f0"/>
<circle cx="613.4" cy="88.7" r="1.09" fill="#fffbf9"/>
<circle cx="630.8" cy="88.7" r="4.07" fill="#ffc6a9"/>
<circle cx="649.0" cy="88.7" r="5.16" fill="#f5926f"/>
<circle cx="542.0" cy="108.1" r="3.61" fill="#ffd5bd"/>
<circle cx="560.0" cy="108.1" r="2.67" fill="#ffe9dc"/>
<circle cx="578.0" cy="108.1" r="1.09" fill="#fffbf9"/>
<circle cx="595.7" cy="108.1" r="2.67" fill="#e2eff6"/>
<circle cx="630.8" cy="108.1" r="4.55" fill="#9bcbe2"/>
<circle cx="649.0" cy="108.1" r="1.09" fill="#fffbf9"/>
<circle cx="542.0" cy="125.7" r="2.43" fill="#e6f1f8"/>
<circle cx="560.0" cy="125.7" r="2.43" fill="#e6f1f8"/>
<circle cx="578.0" cy="125.7" r="2.43" fill="#e6f1f8"/>
<circle cx="595.7" cy="125.7" r="3.85" fill="#bddcec"/>
<circle cx="613.4" cy="125.7" r="1.54" fill="#f5fafc"/>
<circle cx="630.8" cy="125.7" r="4.55" fill="#9bcbe2"/>
<circle cx="542.0" cy="143.6" r="4.87" fill="#8ac3de"/>
<circle cx="560.0" cy="143.6" r="5.16" fill="#75b5d7"/>
<circle cx="578.0" cy="143.6" r="4.74" fill="#91c6e0"/>
<circle cx="595.7" cy="143.6" r="4.99" fill="#82bddb"/>
<circle cx="613.4" cy="143.6" r="4.87" fill="#8ac3de"/>
<circle cx="630.8" cy="143.6" r="5.16" fill="#75b5d7"/>
<circle cx="649.0" cy="143.6" r="4.22" fill="#acd3e7"/>
<circle cx="542.0" cy="161.3" r="2.67" fill="#ffe9dc"/>
<circle cx="560.0" cy="161.3" r="4.22" fill="#ffc0a2"/>
<circle cx="578.0" cy="161.3" r="5.16" fill="#f5926f"/>
<circle cx="595.7" cy="161.3" r="4.22" fill="#ffc0a2"/>
<circle cx="613.4" cy="161.3" r="3.61" fill="#ffd5bd"/>
<circle cx="630.8" cy="161.3" r="1.09" fill="#fafcfe"/>
<circle cx="649.0" cy="161.3" r="2.43" fill="#ffede2"/>
<circle cx="542.0" cy="179.5" r="2.67" fill="#ffe9dc"/>
<circle cx="560.0" cy="179.5" r="2.43" fill="#ffede2"/>
<circle cx="578.0" cy="179.5" r="4.42" fill="#ffb997"/>
<circle cx="595.7" cy="179.5" r="5.16" fill="#f5926f"/>
<circle cx="613.4" cy="179.5" r="4.87" fill="#fda47d"/>
<circle cx="630.8" cy="179.5" r="4.74" fill="#fdaa85"/>
<circle cx="649.0" cy="179.5" r="4.99" fill="#f99d77"/>
<circle cx="542.0" cy="196.9" r="2.67" fill="#ffe9dc"/>
<circle cx="560.0" cy="196.9" r="3.61" fill="#ffd5bd"/>
<circle cx="578.0" cy="196.9" r="5.16" fill="#f5926f"/>
<circle cx="595.7" cy="196.9" r="5.44" fill="#ed7f61"/>
<circle cx="613.4" cy="196.9" r="4.55" fill="#ffb390"/>
<circle cx="630.8" cy="196.9" r="4.87" fill="#fda47d"/>
<circle cx="649.0" cy="196.9" r="4.74" fill="#fdaa85"/>
<circle cx="542.0" cy="214.5" r="3.44" fill="#ffdac4"/>
<circle cx="560.0" cy="214.5" r="3.44" fill="#ffdac4"/>
<circle cx="578.0" cy="214.5" r="4.22" fill="#ffc0a2"/>
<circle cx="595.7" cy="214.5" r="4.87" fill="#fda47d"/>
<circle cx="613.4" cy="214.5" r="3.44" fill="#ffdac4"/>
<circle cx="630.8" cy="214.5" r="5.16" fill="#f5926f"/>
<circle cx="649.0" cy="214.5" r="4.42" fill="#ffb997"/>
<circle cx="542.0" cy="232.7" r="1.09" fill="#fafcfe"/>
<circle cx="560.0" cy="232.7" r="3.61" fill="#ffd5bd"/>
<circle cx="578.0" cy="232.7" r="3.85" fill="#ffcdb3"/>
<circle cx="595.7" cy="232.7" r="3.44" fill="#ffdac4"/>
<circle cx="613.4" cy="232.7" r="1.54" fill="#fff8f3"/>
<circle cx="630.8" cy="232.7" r="4.74" fill="#fdaa85"/>
<circle cx="649.0" cy="232.7" r="3.61" fill="#ffd5bd"/>
<circle cx="560.0" cy="250.4" r="1.54" fill="#fff8f3"/>
<circle cx="578.0" cy="250.4" r="2.67" fill="#ffe9dc"/>
<circle cx="595.7" cy="250.4" r="3.61" fill="#ffd5bd"/>
<circle cx="613.4" cy="250.4" r="3.61" fill="#ffd5bd"/>
<circle cx="630.8" cy="250.4" r="4.87" fill="#fda47d"/>
<circle cx="649.0" cy="250.4" r="3.85" fill="#ffcdb3"/>
<circle cx="542.0" cy="268.6" r="3.61" fill="#c7e1ee"/>
<circle cx="560.0" cy="268.6" r="4.22" fill="#acd3e7"/>
<circle cx="578.0" cy="268.6" r="4.22" fill="#acd3e7"/>
<circle cx="595.7" cy="268.6" r="5.71" fill="#4b9bca"/>
<circle cx="613.4" cy="268.6" r="3.61" fill="#c7e1ee"/>
<circle cx="630.8" cy="268.6" r="5.16" fill="#75b5d7"/>
<circle cx="649.0" cy="268.6" r="3.44" fill="#cee4f0"/>
<circle cx="542.0" cy="286.8" r="1.09" fill="#fafcfe"/>
<circle cx="560.0" cy="286.8" r="1.09" fill="#fffbf9"/>
<circle cx="578.0" cy="286.8" r="1.09" fill="#fffbf9"/>
<circle cx="595.7" cy="286.8" r="4.22" fill="#acd3e7"/>
<circle cx="613.4" cy="286.8" r="1.72" fill="#fff6f0"/>
<circle cx="630.8" cy="286.8" r="3.85" fill="#bddcec"/>
<circle cx="649.0" cy="286.8" r="1.09" fill="#fffbf9"/>
<circle cx="542.0" cy="305.9" r="3.44" fill="#ffdac4"/>
<circle cx="560.0" cy="305.9" r="1.54" fill="#fff8f3"/>
<circle cx="578.0" cy="305.9" r="4.42" fill="#ffb997"/>
<circle cx="595.7" cy="305.9" r="4.22" fill="#ffc0a2"/>
<circle cx="613.4" cy="305.9" r="5.16" fill="#f5926f"/>
<circle cx="630.8" cy="305.9" r="3.61" fill="#ffd5bd"/>
<circle cx="649.0" cy="305.9" r="5.16" fill="#f5926f"/>
<circle cx="542.0" cy="323.2" r="2.67" fill="#ffe9dc"/>
<circle cx="560.0" cy="323.2" r="2.67" fill="#ffe9dc"/>
<circle cx="578.0" cy="323.2" r="5.44" fill="#ed7f61"/>
<circle cx="595.7" cy="323.2" r="5.71" fill="#e56c53"/>
<circle cx="613.4" cy="323.2" r="4.42" fill="#ffb997"/>
<circle cx="630.8" cy="323.2" r="4.42" fill="#ffb997"/>
<circle cx="649.0" cy="323.2" r="4.42" fill="#ffb997"/>
<circle cx="542.0" cy="341.4" r="3.61" fill="#ffd5bd"/>
<circle cx="560.0" cy="341.4" r="4.07" fill="#ffc6a9"/>
<circle cx="578.0" cy="341.4" r="5.44" fill="#ed7f61"/>
<circle cx="595.7" cy="341.4" r="5.33" fill="#f08666"/>
<circle cx="613.4" cy="341.4" r="4.42" fill="#ffb997"/>
<circle cx="630.8" cy="341.4" r="5.16" fill="#f5926f"/>
<circle cx="649.0" cy="341.4" r="4.42" fill="#ffb997"/>
<circle cx="542.0" cy="359.5" r="2.43" fill="#ffede2"/>
<circle cx="560.0" cy="359.5" r="4.07" fill="#ffc6a9"/>
<circle cx="578.0" cy="359.5" r="4.55" fill="#ffb390"/>
<circle cx="595.7" cy="359.5" r="4.07" fill="#ffc6a9"/>
<circle cx="613.4" cy="359.5" r="4.07" fill="#ffc6a9"/>
<circle cx="630.8" cy="359.5" r="5.16" fill="#f5926f"/>
<circle cx="649.0" cy="359.5" r="3.44" fill="#ffdac4"/>
<circle cx="542.0" cy="376.5" r="4.22" fill="#ffc0a2"/>
<circle cx="560.0" cy="376.5" r="1.09" fill="#fffbf9"/>
<circle cx="578.0" cy="376.5" r="3.44" fill="#ffdac4"/>
<circle cx="595.7" cy="376.5" r="4.42" fill="#ffb997"/>
<circle cx="613.4" cy="376.5" r="3.85" fill="#ffcdb3"/>
<circle cx="630.8" cy="376.5" r="5.71" fill="#e56c53"/>
<circle cx="649.0" cy="376.5" r="4.42" fill="#ffb997"/>
<circle cx="542.0" cy="394.2" r="1.72" fill="#f3f8fb"/>
<circle cx="560.0" cy="394.2" r="1.09" fill="#fafcfe"/>
<circle cx="578.0" cy="394.2" r="4.42" fill="#a2cee4"/>
<circle cx="595.7" cy="394.2" r="3.85" fill="#bddcec"/>
<circle cx="613.4" cy="394.2" r="4.55" fill="#9bcbe2"/>
<circle cx="630.8" cy="394.2" r="2.67" fill="#e2eff6"/>
<circle cx="649.0" cy="394.2" r="1.54" fill="#f5fafc"/>
<circle cx="542.0" cy="412.4" r="2.67" fill="#e2eff6"/>
<circle cx="560.0" cy="412.4" r="1.54" fill="#f5fafc"/>
<circle cx="578.0" cy="412.4" r="3.85" fill="#bddcec"/>
<circle cx="595.7" cy="412.4" r="4.42" fill="#a2cee4"/>
<circle cx="613.4" cy="412.4" r="4.74" fill="#91c6e0"/>
<circle cx="649.0" cy="412.4" r="1.54" fill="#f5fafc"/>
<circle cx="542.0" cy="430.5" r="1.09" fill="#fafcfe"/>
<circle cx="560.0" cy="430.5" r="1.09" fill="#fafcfe"/>
<circle cx="578.0" cy="430.5" r="3.85" fill="#bddcec"/>
<circle cx="595.7" cy="430.5" r="3.85" fill="#bddcec"/>
<circle cx="613.4" cy="430.5" r="3.85" fill="#bddcec"/>
<circle cx="630.8" cy="430.5" r="3.85" fill="#ffcdb3"/>
<circle cx="649.0" cy="430.5" r="1.09" fill="#fffbf9"/>
<circle cx="542.0" cy="448.2" r="1.54" fill="#fff8f3"/>
<circle cx="560.0" cy="448.2" r="2.67" fill="#ffe9dc"/>
<circle cx="578.0" cy="448.2" r="1.09" fill="#fffbf9"/>
<circle cx="595.7" cy="448.2" r="2.67" fill="#e2eff6"/>
<circle cx="613.4" cy="448.2" r="2.78" fill="#dfedf5"/>
<circle cx="630.8" cy="448.2" r="1.09" fill="#fffbf9"/>
<circle cx="649.0" cy="448.2" r="1.09" fill="#fffbf9"/>
<circle cx="542.0" cy="465.8" r="2.67" fill="#ffe9dc"/>
<circle cx="560.0" cy="465.8" r="2.67" fill="#ffe9dc"/>
<circle cx="595.7" cy="465.8" r="1.09" fill="#fafcfe"/>
<circle cx="613.4" cy="465.8" r="4.22" fill="#acd3e7"/>
<circle cx="630.8" cy="465.8" r="2.43" fill="#ffede2"/>
<circle cx="542.0" cy="484.0" r="3.44" fill="#ffdac4"/>
<circle cx="560.0" cy="484.0" r="2.67" fill="#ffe9dc"/>
<circle cx="578.0" cy="484.0" r="1.09" fill="#fffbf9"/>
<circle cx="595.7" cy="484.0" r="1.09" fill="#fafcfe"/>
<circle cx="613.4" cy="484.0" r="3.85" fill="#bddcec"/>
<circle cx="630.8" cy="484.0" r="2.67" fill="#ffe9dc"/>
<circle cx="542.0" cy="502.2" r="3.61" fill="#ffd5bd"/>
<circle cx="560.0" cy="502.2" r="3.85" fill="#ffcdb3"/>
<circle cx="578.0" cy="502.2" r="4.22" fill="#ffc0a2"/>
<circle cx="595.7" cy="502.2" r="1.33" fill="#fff9f6"/>
<circle cx="613.4" cy="502.2" r="2.67" fill="#ffe9dc"/>
<circle cx="630.8" cy="502.2" r="5.44" fill="#ed7f61"/>
<circle cx="649.0" cy="502.2" r="3.61" fill="#ffd5bd"/>
<circle cx="560.0" cy="520.5" r="5.71" fill="#4b9bca"/>
<circle cx="578.0" cy="520.5" r="5.71" fill="#4b9bca"/>
<circle cx="595.7" cy="520.5" r="4.87" fill="#8ac3de"/>
<circle cx="613.4" cy="520.5" r="4.22" fill="#acd3e7"/>
<circle cx="630.8" cy="520.5" r="3.44" fill="#cee4f0"/>
<circle cx="649.0" cy="520.5" r="3.44" fill="#cee4f0"/>
<circle cx="542.0" cy="538.1" r="5.71" fill="#4b9bca"/>
<circle cx="578.0" cy="538.1" r="6.21" fill="#2d82bd"/>
<circle cx="595.7" cy="538.1" r="5.44" fill="#60a8d0"/>
<circle cx="613.4" cy="538.1" r="5.16" fill="#75b5d7"/>
<circle cx="630.8" cy="538.1" r="1.33" fill="#f8fbfd"/>
<circle cx="542.0" cy="556.5" r="5.71" fill="#4b9bca"/>
<circle cx="560.0" cy="556.5" r="6.21" fill="#2d82bd"/>
<circle cx="595.7" cy="556.5" r="6.21" fill="#2d82bd"/>
<circle cx="613.4" cy="556.5" r="5.71" fill="#4b9bca"/>
<circle cx="630.8" cy="556.5" r="2.67" fill="#e2eff6"/>
<circle cx="649.0" cy="556.5" r="3.85" fill="#bddcec"/>
<circle cx="542.0" cy="574.1" r="4.99" fill="#82bddb"/>
<circle cx="560.0" cy="574.1" r="5.44" fill="#60a8d0"/>
<circle cx="578.0" cy="574.1" r="6.44" fill="#2577b8"/>
<circle cx="613.4" cy="574.1" r="5.71" fill="#4b9bca"/>
<circle cx="630.8" cy="574.1" r="2.43" fill="#e6f1f8"/>
<circle cx="649.0" cy="574.1" r="2.43" fill="#e6f1f8"/>
<circle cx="542.0" cy="591.9" r="4.22" fill="#acd3e7"/>
<circle cx="560.0" cy="591.9" r="5.16" fill="#75b5d7"/>
<circle cx="578.0" cy="591.9" r="5.71" fill="#4b9bca"/>
<circle cx="595.7" cy="591.9" r="5.71" fill="#4b9bca"/>
<circle cx="630.8" cy="591.9" r="5.16" fill="#75b5d7"/>
<circle cx="649.0" cy="591.9" r="5.44" fill="#60a8d0"/>
<circle cx="542.0" cy="610.1" r="3.44" fill="#cee4f0"/>
<circle cx="560.0" cy="610.1" r="1.09" fill="#fafcfe"/>
<circle cx="578.0" cy="610.1" r="2.67" fill="#e2eff6"/>
<circle cx="595.7" cy="610.1" r="2.67" fill="#e2eff6"/>
<circle cx="613.4" cy="610.1" r="4.99" fill="#82bddb"/>
<circle cx="649.0" cy="610.1" r="6.44" fill="#2577b8"/>
<circle cx="542.0" cy="627.7" r="3.44" fill="#cee4f0"/>
<circle cx="578.0" cy="627.7" r="3.44" fill="#cee4f0"/>
<circle cx="595.7" cy="627.7" r="2.43" fill="#e6f1f8"/>
<circle cx="613.4" cy="627.7" r="5.44" fill="#60a8d0"/>
<circle cx="630.8" cy="627.7" r="6.21" fill="#2d82bd"/>
</g>
<defs><linearGradient id="g" x1="0" y1="0" x2="0" y2="1"><stop offset="0.0" stop-color="#053061"/><stop offset="0.1" stop-color="#2166AC"/><stop offset="0.2" stop-color="#4393C3"/><stop offset="0.3" stop-color="#92C5DE"/><stop offset="0.4" stop-color="#D1E5F0"/><stop offset="0.5" stop-color="#FFFFFF"/><stop offset="0.6" stop-color="#FDDBC7"/><stop offset="0.7" stop-color="#F4A582"/><stop offset="0.8" stop-color="#D6604D"/><stop offset="0.9" stop-color="#B2182B"/><stop offset="1.0" stop-color="#67001F"/></linearGradient></defs>
<rect x="674.5" y="9.2" width="25.5" height="627.5999999999999" fill="url(#g)" stroke="#111" stroke-width="1.5"/>
<g font-family="Liberation Sans, sans-serif" font-size="18.2" fill="#111" stroke="#111" stroke-width="0.7" text-anchor="middle">
<line x1="700.0" x2="705.0" y1="9.2" y2="9.2" stroke="#111" stroke-width="1.5"/>
<path transform="translate(723.54,17.30) scale(0.00889,-0.00889)" d="M763 0H583V1147Q518 1085 412 1023T223 930V1104Q374 1175 487 1276T647 1472H763Z" fill="#111" stroke="#111" stroke-width="78.8"/>
<line x1="700.0" x2="705.0" y1="72.0" y2="72.0" stroke="#111" stroke-width="1.5"/>
<text x="727.7" y="80.3">0.8</text>
<line x1="700.0" x2="705.0" y1="134.7" y2="134.7" stroke="#111" stroke-width="1.5"/>
<text x="727.7" y="143.3">0.6</text>
<line x1="700.0" x2="705.0" y1="197.5" y2="197.5" stroke="#111" stroke-width="1.5"/>
<text x="727.7" y="206.3">0.4</text>
<line x1="700.0" x2="705.0" y1="260.2" y2="260.2" stroke="#111" stroke-width="1.5"/>
<text x="727.7" y="269.3">0.2</text>
<line x1="700.0" x2="705.0" y1="323.0" y2="323.0" stroke="#111" stroke-width="1.5"/>
<text x="727.7" y="332.3">0</text>
<line x1="700.0" x2="705.0" y1="385.8" y2="385.8" stroke="#111" stroke-width="1.5"/>
<text x="727.7" y="395.3">-0.2</text>
<line x1="700.0" x2="705.0" y1="448.5" y2="448.5" stroke="#111" stroke-width="1.5"/>
<text x="727.7" y="458.3">-0.4</text>
<line x1="700.0" x2="705.0" y1="511.3" y2="511.3" stroke="#111" stroke-width="1.5"/>
<text x="727.7" y="521.3">-0.6</text>
<line x1="700.0" x2="705.0" y1="574.0" y2="574.0" stroke="#111" stroke-width="1.5"/>
<text x="727.7" y="584.3">-0.8</text>
<line x1="700.0" x2="705.0" y1="636.8" y2="636.8" stroke="#111" stroke-width="1.5"/>
<text x="719.61" y="647.3" text-anchor="start">-</text>
<path transform="translate(725.67,647.30) scale(0.00889,-0.00889)" d="M763 0H583V1147Q518 1085 412 1023T223 930V1104Q374 1175 487 1276T647 1472H763Z" fill="#111" stroke="#111" stroke-width="78.8"/>
</g>
</svg>
</body></html>
